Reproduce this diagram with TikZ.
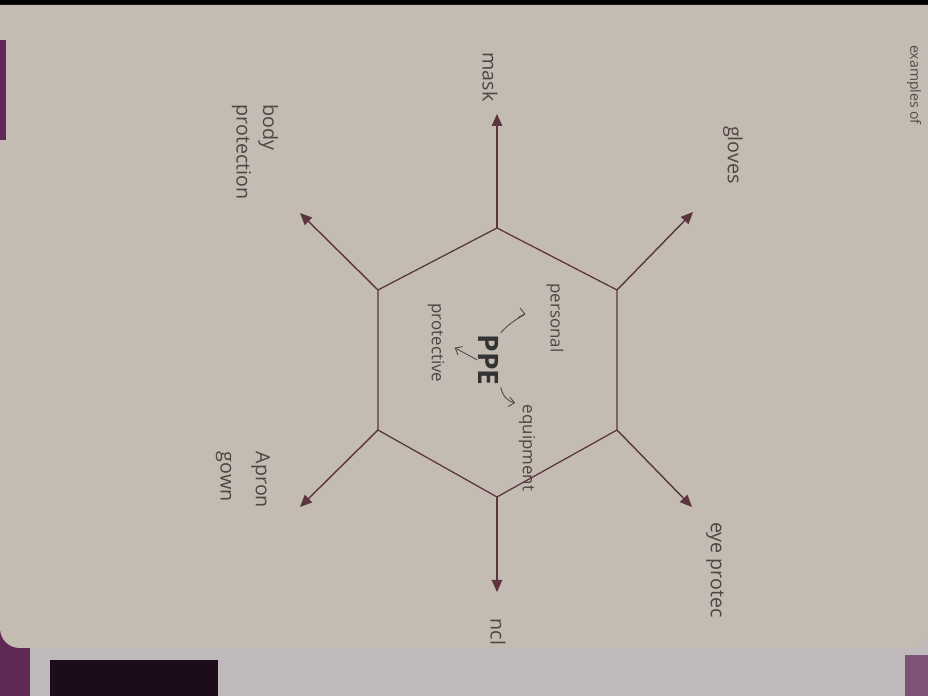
\documentclass[tikz,border=0pt]{standalone}
\usepackage{fontspec}
\setsansfont{Open Sans}
\usetikzlibrary{arrows.meta,positioning,calc}
\definecolor{paper}{RGB}{196,188,178}
\definecolor{ink}{RGB}{80,68,68}
\definecolor{pen}{RGB}{92,52,62}
\definecolor{binder}{RGB}{96,40,84}
\definecolor{nextpage}{RGB}{192,186,188}
\tikzset{
  lbl/.style  = {font=\sffamily\fontsize{14}{19}\selectfont, text=ink,
                 rotate=-90, align=left, inner sep=1pt},
  sub/.style  = {lbl, font=\sffamily\fontsize{12}{14}\selectfont},
  hexln/.style= {pen, line width=0.9pt, line join=round},
  ar/.style   = {pen, line width=1pt, -{Triangle[length=3mm,width=2.6mm]}},
  sar/.style  = {ink, line width=0.6pt, -{Straight Barb[length=1.4mm,width=2.4mm]}}
}

\begin{document}
\begin{tikzpicture}[x=0.025cm, y=0.025cm]
  % photo background
  \useasboundingbox (0,0) rectangle (928,696);
  \fill[black] (0,0) rectangle (928,696);
  \fill[nextpage] (0,0) rectangle (928,80);
  \fill[black!70!binder] (50,0) rectangle (218,36);
  \fill[binder] (0,0) rectangle (30,80);
  \fill[binder!80!white] (905,0) rectangle (928,41);
  \fill[paper] (0,691) -- (928,691) -- (928,60)
    [rounded corners=8pt] -- (928,48) [rounded corners=14pt] -- (0,48)
    [sharp corners] -- (0,70) -- cycle;
  \fill[binder] (0,556) rectangle (6,656);

  % hexagon
  \coordinate (h1) at (497,468);
  \coordinate (h2) at (617,406);
  \coordinate (h3) at (617,266);
  \coordinate (h4) at (497,199);
  \coordinate (h5) at (378,266);
  \coordinate (h6) at (378,406);
  \draw[hexln] (h1) -- (h2) -- (h3) -- (h4) -- (h5) -- (h6) -- cycle;

  % spokes
  \coordinate (t1) at (497,582);
  \coordinate (t2) at (693,484);
  \coordinate (t3) at (692,189);
  \coordinate (t4) at (497,104);
  \coordinate (t5) at (300,189);
  \coordinate (t6) at (300,483);
  \foreach \i in {1,...,6}
    {\draw[ar] (h\i) -- (t\i);}

  % items
  \node[lbl] (mask)   at (490,619) {mask};
  \node[lbl] (gloves) at (733,541) {gloves};
  \node[lbl] (eye)    at (715,126) {eye protec};
  \node[lbl] (ncl)    at (498,64)  {ncl};
  \node[lbl] (apron)  at (243,216) {Apron\\[6pt]gown};
  \node[lbl] (body)   at (255,544) {body\\protection};

  % centre
  \node[lbl, font=\sffamily\bfseries\fontsize{20}{22}\selectfont, text=black!80]
    (ppe) at (489,336) {PPE};
  \node[sub] (personal)   at (555,378) {personal};
  \node[sub] (protective) at (436,353) {protective};
  \node[sub] (equipment)  at (527,248) {equipment};
  \draw[sar, shorten >=5mm] (ppe.north west) to[bend left=30] (personal.south);
  \draw[sar, shorten >=2.5mm] (ppe.south) -- (protective.north);
  \draw[sar, shorten >=0.5mm] (ppe.north east) to[bend right=35] (equipment.south west);

  % printed heading, cut by the photo edge
  \node[lbl, font=\sffamily\fontsize{10}{12}\selectfont, text=black!70]
    (head) at (914,611) {examples of};
\end{tikzpicture}
\end{document}
